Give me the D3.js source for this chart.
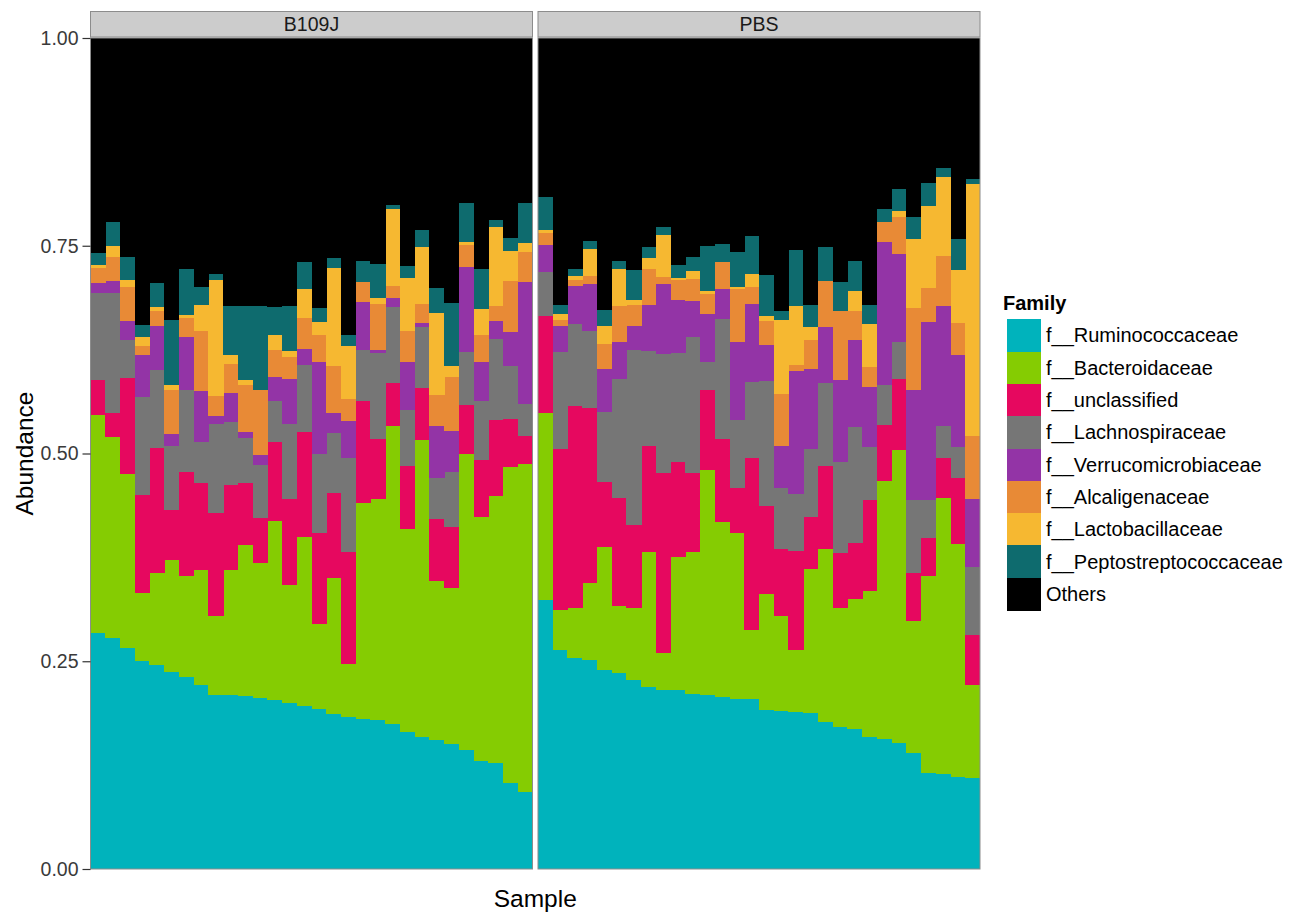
<!DOCTYPE html>
<html>
<head>
<meta charset="utf-8">
<script src="https://cdn.jsdelivr.net/npm/d3@7"></script>
<style>
  body { margin: 0; background: #ffffff; }
  svg text { font-family: "Liberation Sans", Arial, Helvetica, sans-serif; }
</style>
</head>
<body>
<svg id="chart" width="1298" height="914"></svg>
<script>
// Facet groups and stacked families (bottom to top)
const groups = ["B109J", "PBS"];
const families = [
  "f__Ruminococcaceae", "f__Bacteroidaceae", "f__unclassified", "f__Lachnospiraceae",
  "f__Verrucomicrobiaceae", "f__Alcaligenaceae", "f__Lactobacillaceae",
  "f__Peptostreptococcaceae", "Others"
];
const familyColors = [
  "#00b3bc", "#85cc02", "#e6085f", "#767676",
  "#9334a6", "#e88a36", "#f6b831", "#0e6b6e", "#000000"
];
const yTicks = [0, 0.25, 0.5, 0.75, 1];

// Relative abundance per sample: 30 B109J samples followed by 30 PBS samples
const ruminococcaceae = [
  .284,.278,.266,.250,.246,.237,.231,.221,.209,.209,.208,.206,.203,.200,.196,.192,.186,.183,.180,.179,.175,.165,.159,.155,.151,.143,.130,.128,.103,.093,
  .324,.264,.254,.252,.239,.236,.227,.219,.216,.215,.211,.209,.207,.205,.204,.191,.190,.189,.188,.177,.171,.169,.159,.156,.152,.139,.115,.114,.111,.109
];
const bacteroidaceae = [
  .262,.242,.209,.082,.110,.135,.122,.139,.095,.151,.182,.162,.216,.142,.204,.103,.164,.064,.260,.266,.358,.244,.357,.191,.187,.357,.293,.321,.381,.394,
  .225,.048,.060,.092,.149,.080,.087,.162,.044,.161,.170,.271,.211,.199,.084,.140,.114,.074,.173,.208,.143,.156,.175,.311,.352,.160,.237,.333,.280,.112
];
const unclassified = [
  .043,.029,.116,.118,.151,.060,.125,.104,.124,.102,.075,.054,.095,.103,.126,.109,.102,.134,.123,.072,.052,.076,.063,.075,.074,.058,.069,.091,.057,.034,
  .116,.193,.243,.211,.078,.130,.100,.128,.216,.114,.095,.096,.100,.054,.206,.106,.081,.120,.063,.100,.066,.067,.110,.067,.086,.057,.046,.047,.079,.060
];
const lachnospiraceae = [
  .104,.144,.045,.118,.094,.077,.099,.050,.108,.076,.054,.064,.049,.091,.080,.096,.073,.114,.061,.104,.091,.067,.073,.050,.066,.064,.071,.098,.064,.039,
  .054,.117,.099,.093,.084,.144,.211,.114,.144,.131,.164,.034,.144,.082,.092,.150,.074,.068,.081,.100,.110,.140,.064,.048,.044,.088,.046,.039,.038,.082
];
const verrucomicrobiaceae = [
  .012,.015,.023,.050,.053,.015,.063,.061,.009,.035,.007,.012,.029,.054,.020,.110,.024,.044,.058,.003,.011,.058,.005,.062,.049,.102,.047,.021,.041,.146,
  .032,.031,.045,.056,.052,.044,.028,.056,.084,.064,.044,.058,.036,.094,.094,.044,.050,.148,.097,.067,.098,.104,.072,.173,.106,.132,.214,.144,.110,.082
];
const alcaligenaceae = [
  .018,.028,.041,.011,.018,.053,.023,.072,.024,.035,.056,.079,.033,.026,.037,.032,.056,.027,.024,.056,.014,.037,.023,.037,.065,.027,.033,.018,.061,.036,
  .014,.008,.008,.010,.030,.044,.026,.043,.008,.024,.026,.024,.032,.064,.020,.028,.062,.008,.034,.056,.083,.036,.024,.024,.045,.099,.041,.061,.039,.076
];
const lactobacillaceae = [
  .004,.014,.009,.011,.004,.005,.004,.032,.140,.011,.006,0,.018,.007,.035,.016,.118,.063,0,.007,.093,.064,.068,.099,.013,.003,.031,.096,.037,.011,
  .004,.007,.004,.032,.022,.044,.006,.013,.051,.002,.010,.004,0,.002,.016,.006,.090,.070,.016,0,0,.024,.052,0,.007,.083,.099,.095,.064,.303
];
const peptostreptococcaceae = [
  .014,.029,.027,.015,.029,.079,.055,.021,.007,.059,.090,.101,.033,.055,.032,.017,.012,.013,.026,.041,.005,.015,.021,.030,.076,.048,.048,.008,.015,.049,
  .040,.011,.009,.010,.019,.010,.036,.014,.010,.016,.016,.054,.022,.042,.046,.050,.011,.068,.027,.041,.035,.036,.023,.015,.026,.027,.027,.010,.037,.006
];
const others = [
  .259,.221,.264,.345,.295,.339,.278,.300,.284,.322,.322,.322,.324,.322,.270,.325,.265,.358,.268,.272,.201,.274,.231,.301,.319,.198,.278,.219,.241,.198,
  .191,.321,.278,.244,.327,.268,.279,.251,.227,.273,.264,.250,.248,.258,.238,.285,.328,.255,.321,.251,.294,.268,.321,.206,.182,.215,.175,.157,.242,.170
];

const familySeries = [
  ruminococcaceae, bacteroidaceae, unclassified, lachnospiraceae,
  verrucomicrobiaceae, alcaligenaceae, lactobacillaceae, peptostreptococcaceae, others
];
const samplesPerGroup = 30;

// Build one row per sample
const rows = [];
groups.forEach((g, gi) => {
  for (let i = 0; i < samplesPerGroup; i++) {
    const row = { group: g, sample: g + "_" + (i + 1) };
    families.forEach((f, fi) => { row[f] = familySeries[fi][gi * samplesPerGroup + i]; });
    rows.push(row);
  }
});

const svg = d3.select("#chart");
const panelTop = 38, panelBottom = 869;
const panels = [{ x: 90.5, w: 442 }, { x: 538, w: 442 }];

const y = d3.scaleLinear().domain([0, 1]).range([panelBottom, panelTop]).clamp(true);
const color = d3.scaleOrdinal().domain(families).range(familyColors);
const stack = d3.stack().keys(families);

groups.forEach((g, gi) => {
  const p = panels[gi];
  const data = rows.filter(r => r.group === g);
  const x = d3.scaleBand().domain(data.map(d => d.sample)).range([p.x, p.x + p.w]).padding(0);
  const layers = stack(data);

  const gPanel = svg.append("g");
  gPanel.selectAll("g.layer")
    .data(layers)
    .join("g")
    .attr("class", "layer")
    .attr("fill", d => color(d.key))
    .selectAll("rect")
    .data(d => d)
    .join("rect")
    .attr("shape-rendering", "crispEdges")
    .attr("x", d => x(d.data.sample))
    .attr("width", x.bandwidth() + 0.4)
    .attr("y", d => y(d[1]))
    .attr("height", d => Math.max(0, y(d[0]) - y(d[1])));

  // panel border
  svg.append("rect")
    .attr("x", p.x).attr("y", panelTop)
    .attr("width", p.w).attr("height", panelBottom - panelTop)
    .attr("fill", "none").attr("stroke", "#8c8c8c").attr("stroke-width", 1);

  // facet strip
  svg.append("rect")
    .attr("x", p.x).attr("y", 11.5)
    .attr("width", p.w).attr("height", 25.5)
    .attr("fill", "#cccccc").attr("stroke", "#8c8c8c").attr("stroke-width", 1);
  svg.append("text")
    .attr("x", p.x + p.w / 2).attr("y", 31)
    .attr("text-anchor", "middle")
    .attr("font-size", 19.5)
    .attr("fill", "#1a1a1a")
    .text(g);
});

// y axis
const yAxis = d3.axisLeft(y)
  .tickValues(yTicks)
  .tickFormat(d3.format(".2f"))
  .tickSize(8)
  .tickPadding(4);
const gy = svg.append("g").attr("transform", `translate(${panels[0].x},0)`).call(yAxis);
gy.select(".domain").remove();
gy.selectAll(".tick line").attr("stroke", "#333333").attr("stroke-width", 1.2);
gy.selectAll(".tick text")
  .attr("font-size", 19.5)
  .attr("fill", "#3a3a3a")
  .style("font-family", '"Liberation Sans", Arial, sans-serif');

// axis titles
svg.append("text")
  .attr("x", (panels[0].x + panels[1].x + panels[1].w) / 2)
  .attr("y", 907)
  .attr("text-anchor", "middle")
  .attr("font-size", 24.5)
  .attr("fill", "#000")
  .text("Sample");
svg.append("text")
  .attr("transform", `translate(33,${(panelTop + panelBottom) / 2}) rotate(-90)`)
  .attr("text-anchor", "middle")
  .attr("font-size", 24.5)
  .attr("fill", "#000")
  .text("Abundance");

// legend
const legend = svg.append("g").attr("transform", "translate(1003,0)");
legend.append("text")
  .attr("x", 0).attr("y", 310)
  .attr("font-size", 20)
  .attr("font-weight", "bold")
  .attr("fill", "#000")
  .text("Family");
const keyH = 32.3, keyTop = 319.3;
const items = legend.selectAll("g.item")
  .data(families)
  .join("g")
  .attr("class", "item")
  .attr("transform", (d, i) => `translate(0,${keyTop + i * keyH})`);
items.append("rect")
  .attr("x", 4).attr("y", 0)
  .attr("width", 34).attr("height", keyH + 0.5)
  .attr("shape-rendering", "crispEdges")
  .attr("fill", d => color(d));
items.append("text")
  .attr("x", 43).attr("y", keyH / 2 + 7)
  .attr("font-size", 20)
  .attr("fill", "#000")
  .text(d => d);
</script>
</body>
</html>
